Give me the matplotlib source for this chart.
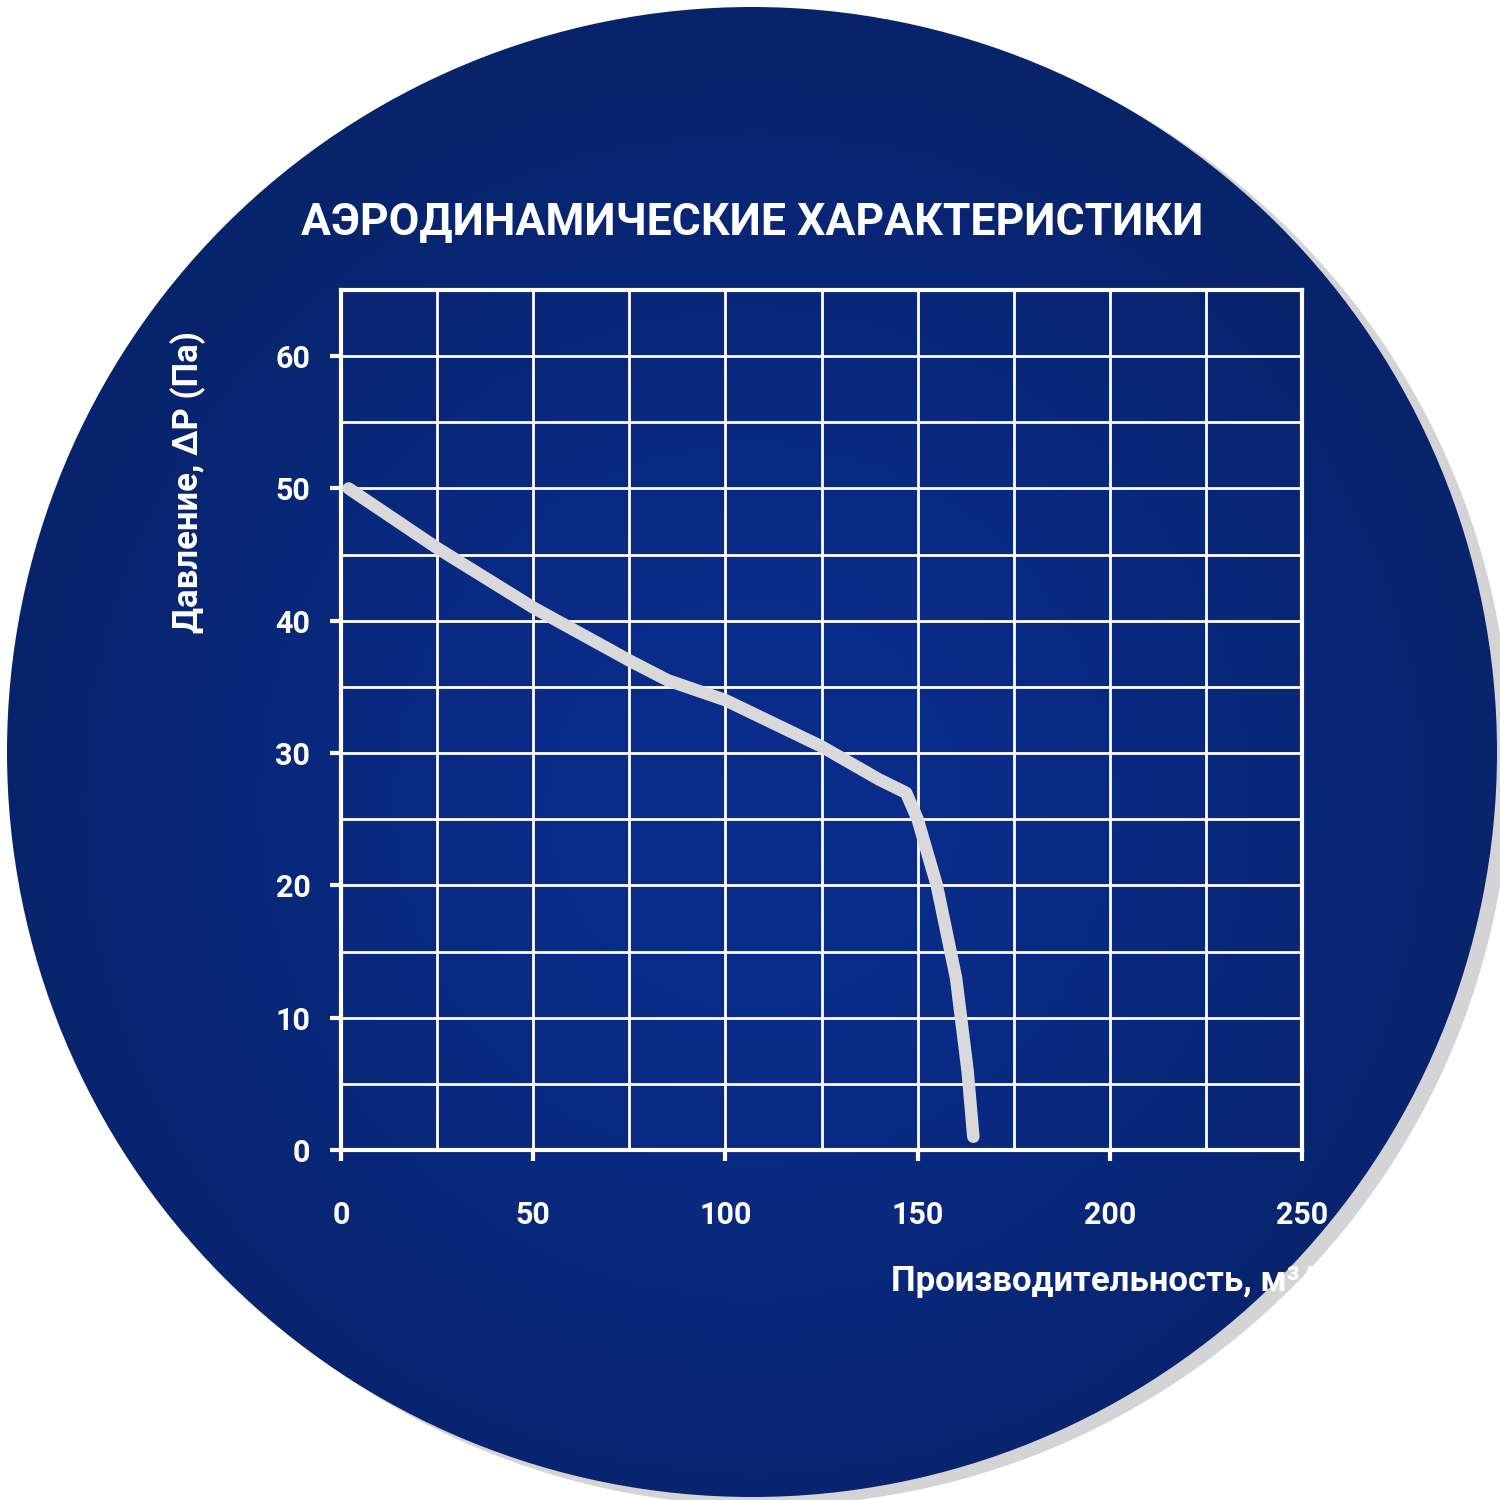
import numpy as np
import matplotlib
matplotlib.use("Agg")
import matplotlib.pyplot as plt
from matplotlib.patches import Circle

flow = [2, 25, 50, 75, 85, 100, 125, 140, 147, 150, 155, 160, 163, 164.5]
pressure = [50, 45.5, 41, 37, 35.5, 34, 30.5, 28, 27, 25, 20, 13, 6, 1]
xticks = [0, 50, 100, 150, 200, 250]
yticks = [0, 10, 20, 30, 40, 50, 60]
title = "АЭРОДИНАМИЧЕСКИЕ ХАРАКТЕРИСТИКИ"
xlabel = "Производительность, м³/ч"
ylabel = "Давление, ΔP (Па)"

plt.rcParams['font.family'] = ['Roboto', 'DejaVu Sans']
fig = plt.figure(figsize=(15, 15), dpi=100)
fig.patch.set_facecolor('white')

bg = fig.add_axes([0, 0, 1, 1])
bg.set_xlim(0, 1500); bg.set_ylim(1500, 0); bg.axis('off')
shadow = Circle((765, 760), 745, color='#d4d4d6', zorder=0)
bg.add_patch(shadow)
yy, xx = np.mgrid[0:300, 0:300]
grad = 0.5 + 0.5 * np.exp(-(((xx - 150) ** 2 + (yy - 160) ** 2) / (2 * 110 ** 2)))
from matplotlib.colors import LinearSegmentedColormap
cm = LinearSegmentedColormap.from_list('b', ['#07205f', '#0a2d8c'])
im = bg.imshow(grad, extent=(7, 1497, 1497, 7), cmap=cm, zorder=1)
clip = Circle((752, 752), 745, transform=bg.transData)
im.set_clip_path(clip)
bg.set_xlim(0, 1500); bg.set_ylim(1500, 0)

ax = fig.add_axes([341/1500, 1-1150/1500, (1302-341)/1500, (1150-290)/1500])
ax.set_facecolor('none')
ax.set_xlim(0, 250); ax.set_ylim(0, 65)
ax.set_xticks(np.arange(0, 251, 25), minor=False)
ax.set_yticks(np.arange(0, 66, 5))
ax.grid(True, color='white', lw=2)
for s in ax.spines.values():
    s.set_color('white'); s.set_linewidth(3)
ax.set_xticks(xticks)
ax.set_xticks(np.arange(0, 251, 25), minor=True)
ax.set_yticks(yticks)
ax.set_yticks(np.arange(0, 66, 5), minor=True)
ax.grid(True, which='both', color='white', lw=2)
ax.tick_params(which='major', colors='white', width=3, length=8, labelsize=22, pad=14)
ax.tick_params(which='minor', length=0)
for lab in ax.get_xticklabels() + ax.get_yticklabels():
    lab.set_fontweight('bold')
ax.tick_params(axis='x', pad=28)
ax.plot(flow, pressure, color='#d9d9dc', lw=9, solid_capstyle='round', zorder=5)

fig.text(752/1500, 1-222/1500, title, color='white', fontsize=32, fontweight='bold', ha='center', va='center')
fig.text(1332/1500, 1-1282/1500, xlabel, color='white', fontsize=25, fontweight='bold', ha='right', va='center')
fig.text(188/1500, 1-482/1500, ylabel, color='white', fontsize=25, fontweight='bold', rotation=90, ha='center', va='center')

fig.savefig('out.png', dpi=100)
